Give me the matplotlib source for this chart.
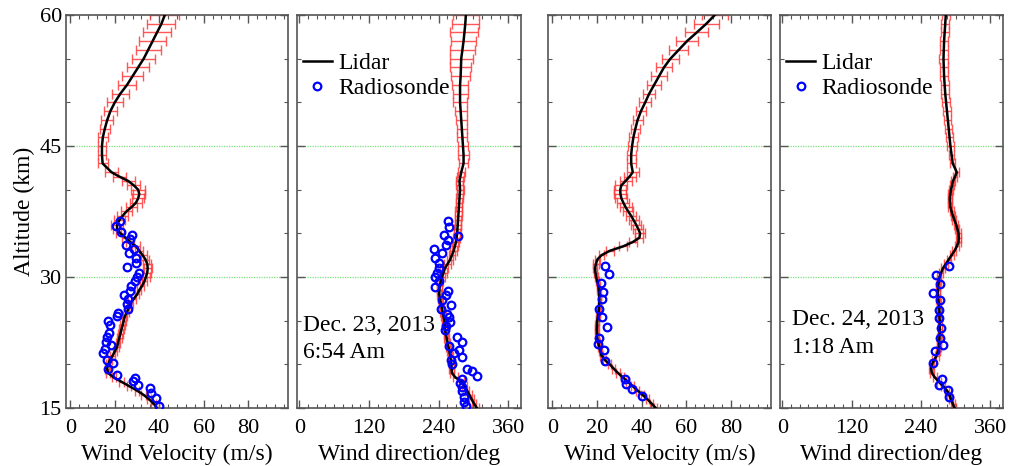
import matplotlib
matplotlib.use("Agg")
import matplotlib.pyplot as plt
from matplotlib.ticker import MultipleLocator

plt.rcParams["font.family"] = "serif"
plt.rcParams["font.serif"] = ["Liberation Serif", "DejaVu Serif"]

# lidar altitude grid (km): dense below 42 km, 1 km above
alt_lidar = [15 + 0.5 * i for i in range(55)] + [43, 44, 45, 46, 47, 48, 49, 50, 51, 52,
                                                 53, 54, 55, 56, 57, 58, 59, 60]

# Dec. 23, 2013 - wind velocity (m/s)
vel_23 = [39, 37.5, 35.4, 33, 30, 26.5, 23, 19.5, 17, 16.5, 17, 17.8, 19, 20, 21, 21.5,
          22, 22.5, 23, 23.5, 24, 24.5, 25.5, 26.3, 27, 28.5, 30, 31, 32.3, 33.3, 34, 34.6,
          34.8, 34.6, 33.8, 32.5, 31, 29.6, 27, 24.8, 22.5, 21, 21, 22, 23.5, 25.2, 27.5,
          29.5, 30.5, 31, 30.5, 28.5, 26, 22, 18.5,
          14.5, 14.2, 14.2, 14.6, 15.5, 16.6, 18, 20, 22.5, 25.5, 28, 30.5, 33, 35, 37, 39,
          41, 42.5]
vel_23_err = [1.0] * 30 + [1.8] * 12 + [2.6] * 8 + [3.0] * 5 + \
             [2.2, 2.0, 2.0, 2.2, 2.4, 2.7, 3.0, 3.5, 3.8, 4.2, 4.6, 5.0, 5.3, 5.6, 5.9, 6.1,
              6.3, 6.5]

# Dec. 23, 2013 - wind direction (deg)
dir_23 = [306, 301, 297, 293, 289, 285, 280, 269, 263, 262.5, 262, 261, 260, 258.5, 257,
          255.5, 254, 252.5, 251, 250.5, 250, 248.5, 247, 245.5, 244, 242.5, 241, 241.5,
          242, 244, 246, 248.5, 251, 255.5, 260, 263, 266, 268, 270, 271, 272, 272.5, 273,
          273.5, 274, 274.5, 275, 275.5, 276, 276.5, 277, 276.5, 276, 277.5, 279,
          283, 283, 282, 281, 280, 279, 278, 277, 277, 277, 278, 278.5, 279, 281, 283,
          284.5, 286, 287]
dir_23_err = [4.0] * 30 + [5.5] * 20 + [6.0] * 5 + \
             [8, 9, 8.6, 8.6, 9, 9.5, 10.5, 11.5, 13, 14, 16, 18, 20, 21, 22, 24, 23.5, 23]

# Dec. 24, 2013 - wind velocity (m/s)
vel_24 = [46.3, 44.5, 42.6, 40.4, 38.2, 36, 33.8, 31.6, 29.4, 27.5, 25.7, 23.5, 22, 21.5,
          21, 20.5, 20.1, 20, 19.9, 20, 20.1, 20.4, 20.7, 20.9, 21, 21, 21, 20.8, 20.6,
          20.1, 19.6, 19.3, 19.1, 19.5, 20.1, 22, 25.7, 31.6, 36, 39, 39.3, 38.5, 37.5,
          36.4, 35.3, 34, 32.8, 31.8, 30.9, 30.5, 30.4, 30.9, 32.8, 34.6, 36,
          35.3, 35.3, 35.7, 36.3, 37.2, 38.2, 39.7, 41.6, 43.4, 45.6, 47.8, 50, 52.9, 56.6,
          60.3, 64.7, 69, 72.8]
vel_24_err = [0.7] * 33 + [1.2] * 3 + [1.8] * 4 + [2.2] * 6 + [2.7] * 9 + \
             [2.0, 2.0, 2.0, 2.0, 2.1, 2.2, 2.4, 2.6, 2.8, 3.1, 3.4, 3.7, 4.0, 4.4, 4.8,
              5.2, 5.5, 5.9]

# Dec. 24, 2013 - wind direction (deg)
dir_24 = [298, 295, 292, 289, 285, 278, 271, 264, 259, 257.5, 259, 263, 267, 269.5, 271,
          271.5, 272, 272.5, 272.5, 272.5, 272.5, 272, 272, 271.5, 271, 270, 269, 269.5,
          270, 271, 272, 275, 278, 283, 288, 293, 298, 302, 305, 305.5, 305, 303, 301, 298,
          295.5, 293, 291, 290.5, 290, 291, 292, 294, 295.5, 299, 302,
          295, 293, 291, 289.5, 288, 286.5, 285, 283.5, 282, 281, 280, 279.5, 279, 279.5,
          280, 281, 282, 283]
dir_24_err = [3.5] * 55 + [4.5, 5, 5.5, 6, 6, 6, 6.5, 6.5, 6.5, 7, 7, 7, 7, 7, 7, 7, 7, 7]

# radiosonde, Dec. 23
rs_alt_23v = [36.4, 35.8, 35.2, 34.8, 34.3, 33.7, 33.2, 32.7, 32.2, 31.6, 31.1, 30.5, 30.0,
              29.5, 29.0, 28.4, 27.9, 27.5, 26.9, 26.3, 25.9, 25.5, 25.0, 24.5, 23.6, 23.1,
              22.6, 22.2, 21.8, 21.3, 20.5, 20.1, 19.5, 18.8, 18.1, 18.4, 17.6, 17.3, 16.7,
              16.1, 15.2]
rs_vel_23 = [22.3, 20.5, 22.6, 27.7, 26.9, 24.9, 28.8, 26.5, 29.5, 29.5, 25.5, 30.8, 29.8,
             28.9, 27.4, 26.9, 24.0, 25.8, 25.5, 25.8, 21.5, 20.8, 16.9, 17.7, 17.4, 16.3,
             15.8, 18.2, 15.7, 14.5, 16.3, 19.1, 16.9, 20.8, 28.0, 29.2, 30.5, 35.8, 36.5,
             38.5, 40.0]
rs_alt_23d = [36.45, 35.76, 34.8, 34.7, 34.2, 33.7, 33.2, 32.7, 32.2, 31.6, 31.0, 30.5, 30.0,
              29.5, 28.9, 28.4, 27.9, 27.4, 26.8, 26.3, 25.8, 25.4, 24.9, 24.4, 23.9, 23.1,
              22.6, 22.1, 21.6, 21.3, 20.8, 20.5, 20.0, 19.5, 19.2, 18.7, 18.3, 17.9, 17.4,
              16.9, 16.3, 15.7, 15.2]
rs_dir_23 = [255.4, 258.3, 249.7, 272.6, 256, 253, 232.6, 245.7, 234.3, 240, 241, 237.7,
             234.3, 240, 234, 257, 253, 245.7, 260.6, 243.4, 254.3, 258.3, 260, 252.6, 251.4,
             272, 280, 258.3, 274.3, 266.9, 281, 261.7, 262.9, 289.7, 297, 305.7, 280, 277,
             280, 281, 283, 284.6, 287.4]

# radiosonde, Dec. 24
rs_alt_24v = [31.3, 30.3, 29.3, 28.3, 27.5, 26.3, 25.4, 24.3, 23.0, 22.3, 21.6, 20.4, 18.3,
              17.7, 17.2, 16.4]
rs_vel_24 = [23.5, 25.4, 21.6, 22.8, 22.1, 20.9, 22.1, 24.3, 20.9, 20.3, 23.1, 23.5, 32.4,
             33.1, 35.7, 40.1]
rs_alt_24d = [31.3, 30.2, 29.2, 28.2, 27.4, 26.2, 25.3, 24.2, 23.0, 22.2, 21.5, 20.2, 18.3,
              17.6, 17.1, 16.3]
rs_dir_24 = [289.2, 266.1, 272.5, 261, 272.5, 270.7, 271.9, 274.8, 273.6, 278.2, 265, 261,
             276.5, 271.9, 286.9, 289.2]

panels = [
    (vel_23, vel_23_err, rs_vel_23, rs_alt_23v, "Wind Velocity (m/s)", None),
    (dir_23, dir_23_err, rs_dir_23, rs_alt_23d, "Wind direction/deg", ("Dec. 23, 2013", "6:54 Am")),
    (vel_24, vel_24_err, rs_vel_24, rs_alt_24v, "Wind Velocity (m/s)", None),
    (dir_24, dir_24_err, rs_dir_24, rs_alt_24d, "Wind direction/deg", ("Dec. 24, 2013", "1:18 Am")),
]

W, H = 1010, 466
# axes boxes in pixels: (left, right)
boxes = [(66, 288), (297, 521), (548, 771), (780, 1003)]
top_px, bot_px = 15, 408
frame_col = "#555555"

fig = plt.figure(figsize=(W / 100, H / 100), dpi=100)

for i, (lid, err, rs_x, rs_y, xlabel, note) in enumerate(panels):
    l, r = boxes[i]
    ax = fig.add_axes([l / W, 1 - bot_px / H, (r - l) / W, (bot_px - top_px) / H])
    is_dir = "direction" in xlabel

    for h in (30, 45):
        ax.axhline(h, color="#7ee07e", lw=0.9, ls=(0, (1, 1)), zorder=1)

    ax.errorbar(lid, alt_lidar, xerr=err, fmt="none", ecolor="#ff3b3b", elinewidth=1.0,
                capsize=3.5, capthick=1.0, alpha=0.85, zorder=2)
    ax.plot(lid, alt_lidar, color="black", lw=1.8, zorder=3, label="Lidar")
    ax.plot(rs_x, rs_y, ls="none", marker="o", ms=5.5, mfc="none", mec="#0000ff", mew=1.6,
            zorder=4, label="Radiosonde")

    ax.set_ylim(15, 60)
    ax.yaxis.set_major_locator(MultipleLocator(15))
    ax.yaxis.set_minor_locator(MultipleLocator(5))
    if is_dir:
        ax.set_xlim(-4, 382)
        ax.xaxis.set_major_locator(MultipleLocator(120))
        ax.xaxis.set_minor_locator(MultipleLocator(15))
    else:
        ax.set_xlim(-2, 98)
        ax.xaxis.set_major_locator(MultipleLocator(20))
        ax.xaxis.set_minor_locator(MultipleLocator(4))

    ax.tick_params(which="both", direction="in", top=True, right=True, colors=frame_col,
                   labelcolor="black", labelsize=16)
    ax.tick_params(which="major", length=6, width=1)
    ax.tick_params(which="minor", length=3, width=0.8)
    ax.tick_params(axis="x", pad=8)
    ax.tick_params(axis="y", pad=3)
    for sp in ax.spines.values():
        sp.set_color(frame_col)
        sp.set_linewidth(1.2)

    ax.set_xlabel(xlabel, fontsize=17, labelpad=4)
    if i == 0:
        ax.set_ylabel("Altitude (km)", fontsize=17, labelpad=3)
    else:
        ax.tick_params(axis="y", labelleft=False)

    if note is not None:
        ax.legend(loc="upper left", bbox_to_anchor=(-0.035, 0.94), frameon=False, fontsize=17,
                  handlelength=1.2, handletextpad=0.3, labelspacing=0.15, borderaxespad=0.2)
        xa = 0.027 if i == 1 else 0.054
        ya = 0.211 if i == 1 else 0.224
        ax.text(xa, ya, note[0], transform=ax.transAxes, fontsize=17, va="center", ha="left")
        ax.text(xa, ya - 0.07, note[1], transform=ax.transAxes, fontsize=17, va="center",
                ha="left")

fig.savefig("out.png", dpi=100)
